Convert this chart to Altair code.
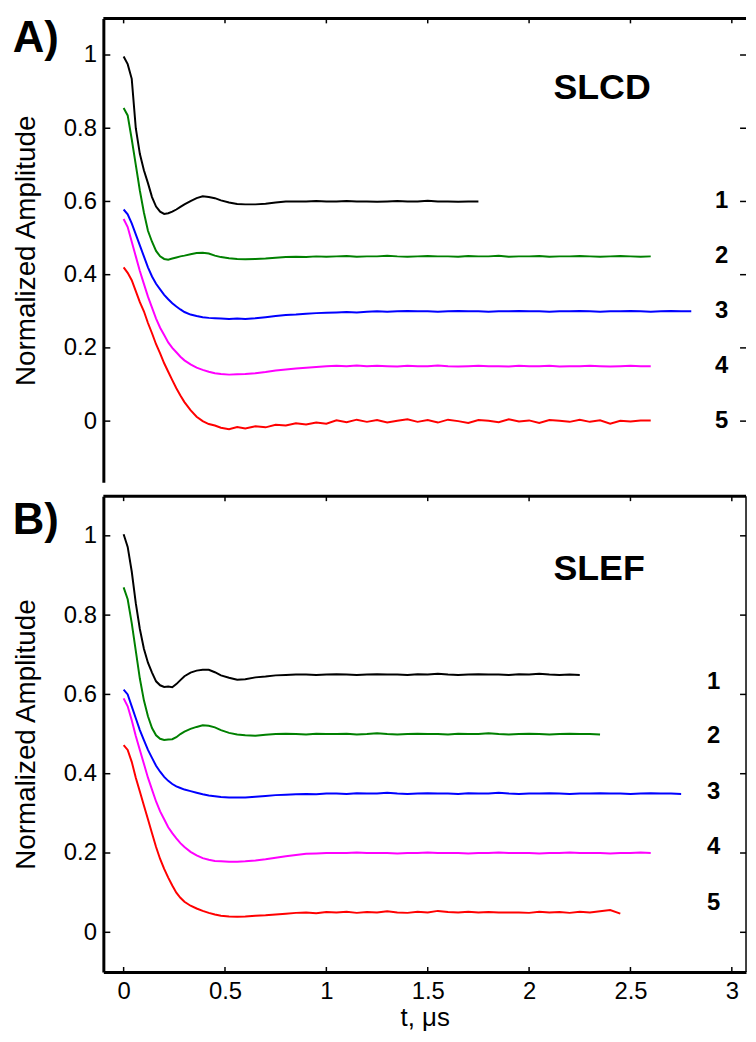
import altair as alt
import pandas as pd

# time grid (microseconds)
T = [0.00, 0.02, 0.04, 0.06, 0.08, 0.10, 0.12, 0.14, 0.16, 0.18, 0.20, 0.22, 0.24, 0.26, 0.28, 0.30,
     0.33, 0.36, 0.39, 0.42, 0.45, 0.48, 0.52, 0.56, 0.60, 0.65, 0.70, 0.75, 0.80, 0.85, 0.90, 0.95, 1.00,
     1.05, 1.10, 1.15, 1.20, 1.25, 1.30, 1.35, 1.40, 1.45, 1.50, 1.55, 1.60, 1.65, 1.70, 1.75, 1.80,
     1.85, 1.90, 1.95, 2.00, 2.05, 2.10, 2.15, 2.20, 2.25, 2.30, 2.35, 2.40, 2.45, 2.50, 2.55, 2.60,
     2.65, 2.70, 2.75, 2.80]

# Panel A (SLCD)
A1 = [0.996, 0.975, 0.935, 0.80, 0.73, 0.685, 0.65, 0.612, 0.586, 0.572, 0.566, 0.568, 0.572, 0.578, 0.585, 0.592,
      0.601, 0.609, 0.614, 0.612, 0.609, 0.603, 0.597, 0.593, 0.592, 0.592, 0.594, 0.597, 0.6, 0.6, 0.6, 0.601, 0.6,
      0.6, 0.601, 0.6, 0.6, 0.599, 0.6, 0.601, 0.6, 0.6, 0.602, 0.6, 0.6, 0.599, 0.6, 0.6]
A2 = [0.855, 0.835, 0.77, 0.70, 0.63, 0.57, 0.52, 0.49, 0.465, 0.45, 0.443, 0.441, 0.444, 0.447, 0.45, 0.452,
      0.456, 0.459, 0.46, 0.458, 0.452, 0.448, 0.445, 0.443, 0.442, 0.443, 0.444, 0.446, 0.448, 0.449, 0.448, 0.45, 0.449,
      0.45, 0.451, 0.449, 0.45, 0.45, 0.452, 0.45, 0.449, 0.45, 0.451, 0.45, 0.45, 0.449, 0.451, 0.45, 0.45,
      0.452, 0.449, 0.45, 0.45, 0.451, 0.449, 0.45, 0.45, 0.451, 0.45, 0.449, 0.45, 0.451, 0.45, 0.449, 0.45]
A3 = [0.578, 0.565, 0.54, 0.51, 0.48, 0.45, 0.42, 0.395, 0.375, 0.36, 0.345, 0.333, 0.322, 0.313, 0.305, 0.298,
      0.291, 0.287, 0.284, 0.282, 0.281, 0.28, 0.279, 0.28, 0.279, 0.281, 0.284, 0.287, 0.29, 0.291, 0.293, 0.295, 0.296,
      0.297, 0.298, 0.297, 0.299, 0.3, 0.299, 0.3, 0.301, 0.3, 0.3, 0.299, 0.3, 0.301, 0.3, 0.3, 0.299,
      0.3, 0.3, 0.301, 0.3, 0.3, 0.299, 0.3, 0.3, 0.301, 0.3, 0.299, 0.3, 0.3, 0.301, 0.3, 0.299,
      0.3, 0.301, 0.3, 0.3]
A4 = [0.552, 0.53, 0.49, 0.45, 0.41, 0.375, 0.34, 0.31, 0.28, 0.255, 0.235, 0.215, 0.2, 0.188, 0.176, 0.166,
      0.155, 0.146, 0.14, 0.135, 0.131, 0.129, 0.127, 0.128, 0.129, 0.131, 0.134, 0.138, 0.141, 0.144, 0.146, 0.148, 0.15,
      0.151, 0.15, 0.152, 0.15, 0.151, 0.15, 0.149, 0.151, 0.15, 0.15, 0.152, 0.15, 0.149, 0.15, 0.151, 0.15,
      0.15, 0.149, 0.151, 0.15, 0.15, 0.151, 0.149, 0.15, 0.15, 0.151, 0.15, 0.149, 0.15, 0.151, 0.15, 0.15]
A5 = [0.42, 0.405, 0.385, 0.355, 0.325, 0.3, 0.268, 0.24, 0.21, 0.185, 0.158, 0.135, 0.112, 0.09, 0.07, 0.052,
      0.03, 0.012, 0.0, -0.008, -0.012, -0.018, -0.022, -0.016, -0.02, -0.014, -0.017, -0.01, -0.012, -0.006, -0.009, -0.004, -0.007,
      0.002, -0.003, 0.004, -0.002, 0.003, -0.004, 0.001, 0.005, -0.002, 0.003, -0.004, 0.004, 0.0, -0.005, 0.003, 0.001,
      -0.003, 0.005, -0.001, 0.002, -0.005, 0.003, 0.001, -0.002, 0.004, -0.002, 0.002, -0.007, 0.001, -0.001, 0.002, 0.002]

# Panel B (SLEF)
B1 = [1.004, 0.972, 0.91, 0.83, 0.765, 0.715, 0.68, 0.655, 0.633, 0.623, 0.619, 0.62, 0.618, 0.626, 0.636, 0.646,
      0.655, 0.66, 0.662, 0.662, 0.656, 0.648, 0.642, 0.637, 0.638, 0.643, 0.645, 0.648, 0.649, 0.65, 0.65, 0.649, 0.65,
      0.651, 0.65, 0.649, 0.65, 0.651, 0.65, 0.65, 0.649, 0.651, 0.65, 0.652, 0.65, 0.649, 0.65, 0.651, 0.65,
      0.65, 0.649, 0.651, 0.65, 0.652, 0.65, 0.649, 0.65, 0.649]
B2 = [0.87, 0.84, 0.78, 0.71, 0.64, 0.585, 0.545, 0.515, 0.497, 0.488, 0.485, 0.486, 0.487, 0.492, 0.5, 0.506,
      0.513, 0.518, 0.522, 0.521, 0.517, 0.51, 0.503, 0.499, 0.497, 0.496, 0.498, 0.5, 0.501, 0.5, 0.499, 0.501, 0.5,
      0.5, 0.501, 0.499, 0.5, 0.502, 0.5, 0.499, 0.5, 0.501, 0.5, 0.5, 0.499, 0.501, 0.5, 0.5, 0.502,
      0.5, 0.499, 0.5, 0.501, 0.5, 0.499, 0.5, 0.501, 0.5, 0.5, 0.499]
B3 = [0.612, 0.6, 0.57, 0.54, 0.51, 0.485, 0.46, 0.44, 0.42, 0.405, 0.392, 0.382, 0.374, 0.368, 0.364, 0.36,
      0.356, 0.352, 0.348, 0.345, 0.343, 0.341, 0.34, 0.34, 0.34, 0.342, 0.344, 0.346, 0.347, 0.348, 0.349, 0.348, 0.35,
      0.35, 0.349, 0.351, 0.35, 0.35, 0.352, 0.35, 0.349, 0.35, 0.351, 0.35, 0.35, 0.349, 0.351, 0.35, 0.35,
      0.352, 0.35, 0.349, 0.35, 0.35, 0.351, 0.35, 0.349, 0.35, 0.35, 0.351, 0.35, 0.35, 0.349, 0.35, 0.351,
      0.35, 0.35, 0.349]
B4 = [0.59, 0.57, 0.535, 0.495, 0.46, 0.425, 0.39, 0.36, 0.33, 0.305, 0.285, 0.265, 0.25, 0.237, 0.225, 0.215,
      0.203, 0.194, 0.187, 0.183, 0.18, 0.179, 0.178, 0.178, 0.179, 0.181, 0.184, 0.188, 0.192, 0.195, 0.198, 0.199, 0.2,
      0.2, 0.2, 0.201, 0.2, 0.2, 0.2, 0.199, 0.2, 0.2, 0.201, 0.2, 0.2, 0.2, 0.199, 0.2, 0.2,
      0.201, 0.2, 0.2, 0.2, 0.199, 0.2, 0.2, 0.201, 0.2, 0.2, 0.2, 0.199, 0.2, 0.2, 0.201, 0.2]
B5 = [0.472, 0.46, 0.43, 0.39, 0.355, 0.32, 0.285, 0.25, 0.215, 0.185, 0.16, 0.138, 0.118, 0.1, 0.087, 0.077,
      0.067, 0.06, 0.054, 0.049, 0.045, 0.042, 0.04, 0.039, 0.04, 0.042, 0.043, 0.045, 0.047, 0.049, 0.05, 0.048, 0.051,
      0.05, 0.052, 0.049, 0.051, 0.05, 0.053, 0.05, 0.049, 0.052, 0.05, 0.054, 0.051, 0.05, 0.052, 0.05, 0.051,
      0.05, 0.05, 0.05, 0.049, 0.052, 0.05, 0.051, 0.049, 0.052, 0.05, 0.053, 0.056, 0.047]

CURVES = ["1", "2", "3", "4", "5"]
COLORS = ["#000000", "#008000", "#0000ff", "#ff00ff", "#ff0000"]
A_LABEL_V = [0.6, 0.45, 0.3, 0.15, 0.0]
B_LABEL_V = [0.63, 0.495, 0.355, 0.215, 0.075]
Y_TICKS = [0, 0.2, 0.4, 0.6, 0.8, 1]
X_TICKS = [0, 0.5, 1, 1.5, 2, 2.5, 3]

FONT = "Liberation Sans"
W = 647
XS = alt.Scale(domain=[-0.1, 3.07], nice=False, zero=False)


def curve_frame(series):
    rows = []
    for name, vals in zip(CURVES, series):
        for t, v in zip(T, vals):
            rows.append({"curve": name, "t": t, "v": v})
    return pd.DataFrame(rows)


def panel(series, ydom, H, lab_t, lab_v, name, name_t, name_v, letter, letter_t, letter_v, bottom):
    ys = alt.Scale(domain=ydom, nice=False, zero=False)
    df = curve_frame(series)
    if bottom:
        xaxis = alt.Axis(values=X_TICKS, format="~g", title="t, μs", ticks=False, tickSize=0,
                         labelFont=FONT, labelFontSize=24, labelColor="black", labelPadding=8,
                         titleFont=FONT, titleFontSize=26, titleFontWeight="normal", titleColor="black",
                         titlePadding=1, domainWidth=3, domainColor="black", grid=False)
    else:
        xaxis = None
    yaxis = alt.Axis(values=Y_TICKS, format="~g", title="Normalized Amplitude", ticks=False, tickSize=0,
                     labelFont=FONT, labelFontSize=24, labelColor="black", labelPadding=7,
                     titleFont=FONT, titleFontSize=28, titleFontWeight="normal", titleColor="black",
                     titlePadding=23, domainWidth=3, domainColor="black", grid=False)

    def X():
        return alt.X("t:Q", scale=XS, axis=xaxis)

    def Y():
        return alt.Y("v:Q", scale=ys, axis=yaxis)

    lines = alt.Chart(df).mark_line(strokeWidth=2, clip=True).encode(
        x=X(), y=Y(),
        color=alt.Color("curve:N", scale=alt.Scale(domain=CURVES, range=COLORS), legend=None),
    )
    ydf = pd.DataFrame({"v": Y_TICKS})
    xdf = pd.DataFrame({"t": X_TICKS})
    one = pd.DataFrame({"k": [0]})
    left_ticks = alt.Chart(ydf).mark_rule(color="black", strokeWidth=1.5).encode(
        y=Y(), x=alt.value(0), x2=alt.value(7))
    right_ticks = alt.Chart(ydf).mark_rule(color="black", strokeWidth=1.5).encode(
        y=Y(), x=alt.value(W - 6), x2=alt.value(W))
    top_ticks = alt.Chart(xdf).mark_rule(color="black", strokeWidth=1.5).encode(
        x=X(), y=alt.value(0), y2=alt.value(5))
    top_border = alt.Chart(one).mark_rule(color="black", strokeWidth=3).encode(
        x=alt.value(0), x2=alt.value(W), y=alt.value(0))
    lab_df = pd.DataFrame({"t": [lab_t] * 5, "v": lab_v, "txt": CURVES})
    labels = alt.Chart(lab_df).mark_text(font=FONT, fontSize=24, fontWeight="bold", color="black",
                                         align="center", baseline="middle").encode(
        x=X(), y=Y(), text="txt:N")
    name_df = pd.DataFrame({"t": [name_t], "v": [name_v], "txt": [name]})
    name_txt = alt.Chart(name_df).mark_text(font=FONT, fontSize=36, fontWeight="bold", color="black",
                                            align="left", baseline="middle").encode(
        x=X(), y=Y(), text="txt:N")
    let_df = pd.DataFrame({"t": [letter_t], "v": [letter_v], "txt": [letter]})
    let_txt = alt.Chart(let_df).mark_text(font=FONT, fontSize=44, fontWeight="bold", color="black",
                                          align="left", baseline="top").encode(
        x=X(), y=Y(), text="txt:N")
    layers = [lines, left_ticks, right_ticks, top_ticks, top_border, labels, name_txt, let_txt]
    if bottom:
        bottom_ticks = alt.Chart(xdf).mark_rule(color="black", strokeWidth=1.5).encode(
            x=X(), y=alt.value(H - 5), y2=alt.value(H))
        right_border = alt.Chart(one).mark_rule(color="black", strokeWidth=1.5).encode(
            x=alt.value(W), y=alt.value(0), y2=alt.value(H))
        layers += [bottom_ticks, right_border]
    return alt.layer(*layers).properties(width=W, height=H)


pA = panel([A1, A2, A3, A4, A5], [-0.167, 1.1], 467, 2.95, A_LABEL_V, "SLCD", 2.12, 0.91,
           "A)", -0.547, 1.1035, False)
pB = panel([B1, B2, B3, B4, B5], [-0.1, 1.1], 479, 2.91, B_LABEL_V, "SLEF", 2.12, 0.915,
           "B)", -0.547, 1.092, True)

chart = alt.vconcat(pA, pB, spacing=12).properties(
    padding={"left": 4, "top": 5, "right": 0, "bottom": 0}
).configure_view(stroke=None)

chart.save("out.html", embed_options={"renderer": "svg", "actions": False})
